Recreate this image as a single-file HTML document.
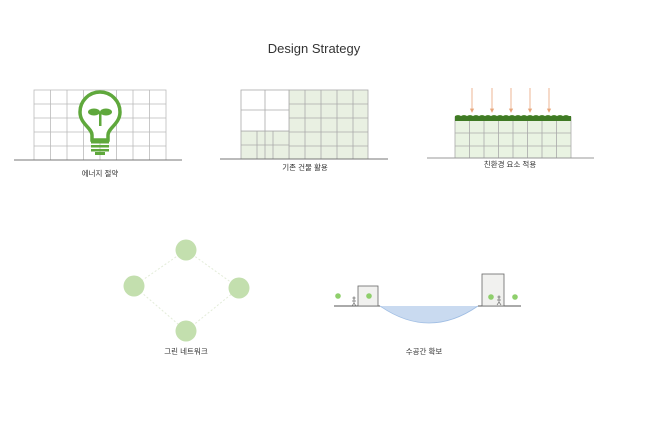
<!DOCTYPE html>
<html><head><meta charset="utf-8"><style>
body{margin:0;background:#fff;}
svg text{font-family:"Liberation Sans","Noto Sans CJK KR",sans-serif;fill:#333;}
</style></head><body>
<svg width="650" height="433" viewBox="0 0 650 433" xmlns="http://www.w3.org/2000/svg">
<text x="314" y="53" font-size="13" text-anchor="middle" fill="#222">Design Strategy</text>

<!-- Panel 1 -->
<g stroke="#bbb" stroke-width="0.8" fill="none">
<rect x="34" y="90" width="132" height="70"/>
<path d="M50.5 90V160M67 90V160M83.5 90V160M100 90V160M116.5 90V160M133 90V160M149.5 90V160M34 104H166M34 118H166M34 132H166M34 146H166"/>
</g>
<line x1="14" y1="160" x2="182" y2="160" stroke="#777" stroke-width="1"/>
<g stroke="#5fa83c" fill="none" stroke-width="3.5">
<path d="M92 140 L92 135 C92 128 80 124 80 112 A20 20 0 0 1 120 112 C120 124 108 128 108 135 L108 140 Z" fill="#fff"/>
</g>
<g fill="#5fa83c">
<rect x="91" y="141" width="18" height="2.5"/>
<rect x="91" y="145" width="18" height="2.5"/>
<rect x="91" y="149" width="18" height="2.5"/>
<rect x="95" y="152" width="10" height="3"/>
<rect x="99" y="112" width="2.5" height="14"/>
<ellipse cx="94" cy="112" rx="6" ry="3.5"/>
<ellipse cx="106" cy="112" rx="6" ry="3.5"/>
</g>
<text x="100" y="176" font-size="7.5" text-anchor="middle">에너지 절약</text>

<!-- Panel 2 -->
<rect x="289" y="90" width="79" height="69" fill="#e9f0e2" stroke="#aaa" stroke-width="0.8"/>
<rect x="241" y="131" width="48" height="28" fill="#e9f0e2" stroke="#aaa" stroke-width="0.8"/>
<rect x="241" y="90" width="48" height="41" fill="#fff" stroke="#aaa" stroke-width="0.8"/>
<g stroke="#aaa" stroke-width="0.8" fill="none">
<path d="M265 90V159M241 110H289M305 90V159M321 90V159M337 90V159M353 90V159M289 104H368M289 118H368M289 132H368M289 146H368M257 131V159M273 131V159M241 145H289"/>
</g>
<line x1="220" y1="159" x2="388" y2="159" stroke="#777" stroke-width="1"/>
<text x="305" y="170" font-size="7.5" text-anchor="middle">기존 건물 활용</text>

<!-- Panel 3 -->
<rect x="455" y="117" width="116" height="41" fill="#e9f3e2" stroke="#aaa" stroke-width="0.8"/>
<g stroke="#aaa" stroke-width="0.8"><path d="M469.5 120V158M484 120V158M498.5 120V158M513 120V158M527.5 120V158M542 120V158M556.5 120V158M455 133H571M455 146H571"/></g>
<rect x="455" y="116" width="116" height="5" fill="#3f7a24"/>
<path d="M455 116 q3 -2 6 0 q3 -2 6 0 q3 -2 6 0 q3 -2 6 0 q3 -2 6 0 q3 -2 6 0 q3 -2 6 0 q3 -2 6 0 q3 -2 6 0 q3 -2 6 0 q3 -2 6 0 q3 -2 6 0 q3 -2 6 0 q3 -2 6 0 q3 -2 6 0 q3 -2 6 0 q3 -2 6 0 q3 -2 6 0 q3 -2 6 0" fill="#4f8a30"/>
<line x1="427" y1="158" x2="594" y2="158" stroke="#999" stroke-width="1"/>
<g stroke="#e8a57a" stroke-width="0.8" fill="#e8a57a">
<path d="M472 88V110M492 88V110M511 88V110M530 88V110M549 88V110"/>
<path d="M470.5 109L472 112L473.5 109ZM490.5 109L492 112L493.5 109ZM509.5 109L511 112L512.5 109ZM528.5 109L530 112L531.5 109ZM547.5 109L549 112L550.5 109Z"/>
</g>
<text x="510" y="167" font-size="7.5" text-anchor="middle">친환경 요소 적용</text>

<!-- Panel 4 -->
<g stroke="#e3ecd9" stroke-width="1" stroke-dasharray="2 2">
<path d="M186 250L134 286L186 331L239 288Z" fill="none"/>
</g>
<g fill="#c3dfae">
<circle cx="186" cy="250" r="10.5"/><circle cx="134" cy="286" r="10.5"/><circle cx="239" cy="288" r="10.5"/><circle cx="186" cy="331" r="10.5"/>
</g>
<text x="186" y="354" font-size="7.5" text-anchor="middle">그린 네트워크</text>

<!-- Panel 5 -->
<path d="M380 306 Q429 340 478 306 Z" fill="#c9daf0"/>
<path d="M380 306 Q429 340 478 306" fill="none" stroke="#9fbde3" stroke-width="0.8"/>
<line x1="334" y1="306" x2="380" y2="306" stroke="#555" stroke-width="1"/>
<line x1="478" y1="306" x2="521" y2="306" stroke="#555" stroke-width="1"/>
<rect x="358" y="286" width="20" height="20" fill="#f1f1ef" stroke="#666" stroke-width="0.8"/>
<rect x="482" y="274" width="22" height="32" fill="#f1f1ef" stroke="#666" stroke-width="0.8"/>
<g fill="#8fcf6c">
<circle cx="338" cy="296" r="2.8"/><circle cx="369" cy="296" r="2.8"/><circle cx="491" cy="297" r="2.8"/><circle cx="515" cy="297" r="2.8"/>
</g>
<g stroke="#777" stroke-width="0.7" fill="none">
<circle cx="354" cy="298" r="1"/><path d="M354 299V303L352 306M354 303L356 306M352 301H356"/>
<circle cx="499" cy="297" r="1"/><path d="M499 298V302L497 305M499 302L501 305M497 300H501"/>
</g>
<text x="424" y="354" font-size="7.5" text-anchor="middle">수공간 확보</text>
</svg>
</body></html>
